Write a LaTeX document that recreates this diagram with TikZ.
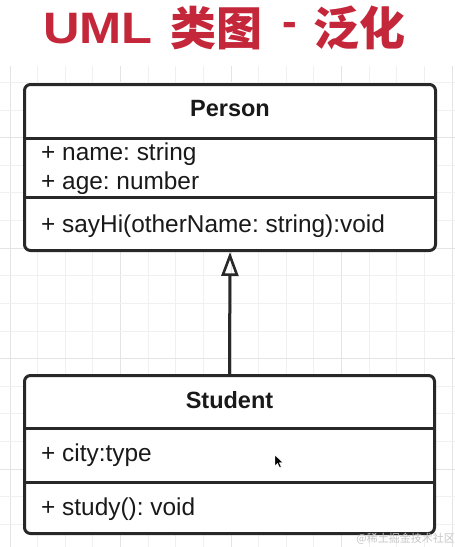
\documentclass[tikz,border=0pt]{standalone}
\usepackage{fontspec}
\setmainfont{Liberation Sans}
\newfontfamily\cjk{Noto Sans CJK SC}
\usetikzlibrary{arrows.meta}
\definecolor{titlered}{RGB}{196,38,58}
\definecolor{boxline}{RGB}{40,40,40}
\definecolor{txt}{RGB}{25,25,25}
\definecolor{gridminor}{RGB}{240,240,240}
\definecolor{gridmajor}{RGB}{228,228,228}
\frenchspacing
\begin{document}
\begin{tikzpicture}[x=1pt,y=-1pt,
  classbox/.style={draw=boxline, line width=3pt, rounded corners=6pt, fill=white, inner sep=0pt, outer sep=1.5pt},
  sepline/.style={draw=boxline, line width=3pt},
  clsname/.style={font=\fontsize{23.5}{26}\selectfont\bfseries, text=txt, inner sep=0pt},
  member/.style={font=\fontsize{24.4}{28}\selectfont, text=txt, inner sep=0pt, anchor=base west},
  titletxt/.style={font=\fontsize{44}{50}\selectfont\bfseries, text=titlered, inner sep=0pt, anchor=west},
  gen/.style={draw=boxline, line width=3pt, -{Triangle[open, length=24pt, width=17pt, line width=2.6pt]}}
]
\useasboundingbox (0,0) rectangle (455,547);
\fill[white] (0,0) rectangle (455,547);
% grid
\begin{scope}
\clip (0,66) rectangle (455,547);
\foreach \i in {0,...,16} {
  \pgfmathsetmacro\xx{10+27.625*\i}
  \pgfmathtruncatemacro\m{mod(\i,4)}
  \ifnum\m=0 \draw[gridmajor, line width=1pt] (\xx,60) -- (\xx,547);
  \else \draw[gridminor, line width=1pt] (\xx,60) -- (\xx,547); \fi
}
\foreach \i in {-3,...,15} {
  \pgfmathsetmacro\yy{137.7+27.625*\i}
  \pgfmathtruncatemacro\m{mod(\i+40,4)}
  \ifnum\m=0 \draw[gridmajor, line width=1pt] (0,\yy) -- (455,\yy);
  \else \draw[gridminor, line width=1pt] (0,\yy) -- (455,\yy); \fi
}
\end{scope}
% title
\node[titletxt] (t1) at (43,28.5) {\scalebox{1.15}[1]{UML}};
\node[titletxt, font=\cjk\fontsize{46}{50}\selectfont\bfseries] (t2) at (170,28) {类图};
\node[titletxt] (t3) at (282,29) {-};
\node[titletxt, font=\cjk\fontsize{46}{50}\selectfont\bfseries] (t4) at (313,28) {泛化};
% Person
\node[classbox, minimum width=411pt, minimum height=166pt] (person) at (230,167.5) {};
\draw[sepline] (24,138) -- (436,138);
\draw[sepline] (24,197) -- (436,197);
\node[clsname, anchor=base] (pname) at (230,116.5) {Person};
\node[member] (pa1) at (41,160.5) {+ name: string};
\node[member] (pa2) at (41,189.5) {+ age: number};
\node[member] (pm1) at (41,232.5) {+ sayHi(otherName: string):void};
% Student
\node[classbox, minimum width=410pt, minimum height=158pt] (student) at (229.5,454.5) {};
\draw[sepline] (24,428) -- (435,428);
\draw[sepline] (24,482) -- (435,482);
\node[clsname, anchor=base] (sname) at (229.5,408.5) {Student};
\node[member] (sa1) at (41,461.5) {+ city:type};
\node[member] (sm1) at (41,515) {+ study(): void};
% generalization
\draw[gen] (student.north) -- (person.south);
% cursor
\filldraw[fill=black, draw=white, line width=0.4pt] (275,455) -- (275,466) -- (277.6,463.4) -- (279.6,467.6) -- (281.2,466.8) -- (279.3,462.7) -- (282.8,462.7) -- cycle;
% watermark
\node[font=\cjk\fontsize{11}{12}\selectfont, text=gray!45, anchor=east, inner sep=0pt] (wm) at (455,539) {@稀土掘金技术社区};
\end{tikzpicture}
\end{document}
